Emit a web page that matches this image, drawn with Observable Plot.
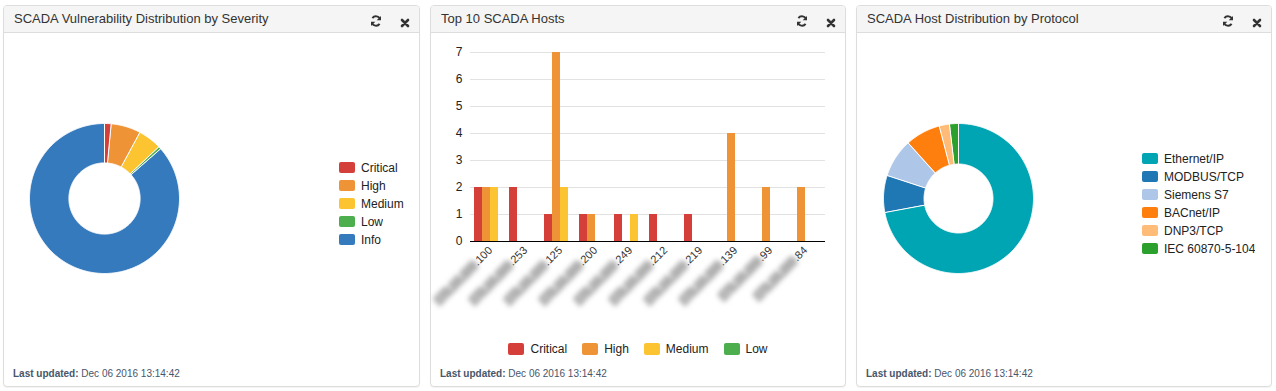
<!DOCTYPE html>
<html><head><meta charset="utf-8">
<script src="https://cdn.jsdelivr.net/npm/d3@7"></script>
<script src="https://cdn.jsdelivr.net/npm/@observablehq/plot@0.6"></script>
<style>
html,body{margin:0;padding:0;background:#fff;}
body{width:1276px;height:391px;position:relative;overflow:hidden;font-family:"Helvetica Neue",Helvetica,Arial,"Liberation Sans",sans-serif;color:#333;}
.panel{position:absolute;top:5px;height:382px;box-sizing:border-box;border:1px solid #ddd;border-radius:4px;background:#fff;box-shadow:0 1px 1px rgba(0,0,0,.05);}
.hdr{position:absolute;left:0;right:0;top:0;height:27px;box-sizing:border-box;background:#f5f5f5;border-bottom:1px solid #ddd;border-radius:3px 3px 0 0;}
.title{position:absolute;left:10px;top:5px;font-size:13px;color:#333;white-space:nowrap;}
.ico{position:absolute;top:7px;}
.foot{position:absolute;left:9px;top:362px;font-size:10px;color:#48566a;white-space:nowrap;}
.chart{position:absolute;}
.leg{position:absolute;font-size:12px;color:#222;}
.leg svg{margin-right:6px !important;}
.leg rect{rx:2px;ry:2px;}
#barleg{left:430px;width:416px;top:340px;}
#barleg > div{justify-content:center;min-height:18px !important;margin:0 !important;}
#barleg span{margin-right:15px !important;}
#barleg span:last-child{margin-right:0 !important;}
#leg1{left:339px;top:159px;}
#leg3{left:1142px;top:150px;}
#leg1 svg,#leg3 svg{margin-top:3px;margin-bottom:3px;}
#leg1 > div, #leg3 > div{margin:0 !important;}
</style>
</head><body>
<script>
// ---------- data ----------
const severities = ["Critical", "High", "Medium", "Low", "Info"];
const severityCounts = [8, 34, 27, 3, 460];
const severityColors = ["#d43f3a", "#ee9336", "#fdc431", "#4cae4c", "#357abd"];

const protocols = ["Ethernet/IP", "MODBUS/TCP", "Siemens S7", "BACnet/IP", "DNP3/TCP", "IEC 60870-5-104"];
const protocolCounts = [390, 43, 45, 41, 12, 10];
const protocolColors = ["#00a5b4", "#1f77b4", "#aec7e8", "#ff7f0e", "#ffbb78", "#2ca02c"];

const hostOctets = ["100", "253", "125", "200", "249", "212", "219", "139", "99", "84"];
const hostCritical = [2, 2, 1, 1, 1, 1, 1, 0, 0, 0];
const hostHigh     = [2, 0, 7, 1, 0, 0, 0, 4, 2, 2];
const hostMedium   = [2, 0, 2, 0, 1, 0, 0, 0, 0, 0];
const hostLow      = [0, 0, 0, 0, 0, 0, 0, 0, 0, 0];
const barSeverities = ["Critical", "High", "Medium", "Low"];
const yTicks = [0, 1, 2, 3, 4, 5, 6, 7];

const panelTitles = ["SCADA Vulnerability Distribution by Severity", "Top 10 SCADA Hosts", "SCADA Host Distribution by Protocol"];
const lastUpdated = "Dec 06 2016 13:14:42";

// ---------- panels ----------
const FONT = '"Helvetica Neue",Helvetica,Arial,"Liberation Sans",sans-serif';
const panelLefts = [3, 430, 856];
const panelWidths = [417, 416, 416];
const refreshSvg = '<svg width="12" height="12" viewBox="0 0 12 12"><path d="M10.1 4.6A4.3 4.3 0 0 0 2.4 3.1" fill="none" stroke="#333" stroke-width="1.9"/><path d="M11 0.9V5.2H6.7z" fill="#333"/><path d="M1.9 7.4A4.3 4.3 0 0 0 9.6 8.9" fill="none" stroke="#333" stroke-width="1.9"/><path d="M1 11.1V6.8H5.3z" fill="#333"/></svg>';
const closeSvg = '<svg width="10" height="10" viewBox="0 0 10 10"><path d="M2 2L8 8M8 2L2 8" stroke="#333" stroke-width="2.6" stroke-linecap="round"/></svg>';
panelTitles.forEach((t, i) => {
  const p = document.createElement("div");
  p.className = "panel";
  p.style.left = panelLefts[i] + "px";
  p.style.width = panelWidths[i] + "px";
  const w = panelWidths[i];
  p.innerHTML = `<div class="hdr"><span class="title">${t}</span>
    <span class="ico" style="left:${w - 51}px">${refreshSvg}</span>
    <span class="ico" style="left:${w - 21}px;top:8px">${closeSvg}</span></div>
    <div class="foot"><b>Last updated:</b> ${lastUpdated}</div>`;
  document.body.appendChild(p);
});

function place(node, left, top, id) {
  const d = document.createElement("div");
  d.className = id ? "leg" : "chart";
  if (id) d.id = id;
  d.style.left = left + "px"; d.style.top = top + "px";
  d.appendChild(node);
  document.body.appendChild(d);
  return d;
}

// ---------- donut helper ----------
function donut(names, values, colors, innerRatio, r) {
  const arcs = d3.pie().sort(null)(values);
  const pts = [];
  arcs.forEach((a, i) => {
    const n = Math.max(2, Math.ceil((a.endAngle - a.startAngle) / 0.01));
    for (let k = 0; k <= n; k++) {
      const t = a.startAngle + (a.endAngle - a.startAngle) * k / n;
      pts.push({key: names[i], x: Math.sin(t), y: Math.cos(t)});
    }
    for (let k = n; k >= 0; k--) {
      const t = a.startAngle + (a.endAngle - a.startAngle) * k / n;
      pts.push({key: names[i], x: innerRatio * Math.sin(t), y: innerRatio * Math.cos(t)});
    }
  });
  const pad = 5, size = 2 * r + 2 * pad;
  return Plot.plot({
    width: size, height: size, margin: 0,
    style: {background: "transparent"},
    x: {domain: [-1, 1], range: [pad, pad + 2 * r], axis: null},
    y: {domain: [-1, 1], range: [pad + 2 * r, pad], axis: null},
    color: {domain: names, range: colors},
    marks: [
      Plot.line(pts, {x: "x", y: "y", z: "key", fill: "key", stroke: "#fff", strokeWidth: 1, curve: "linear-closed"})
    ]
  });
}

// Donut 1
const d1 = donut(severities, severityCounts, severityColors, 0.475, 75);
place(d1, 104 - 80, 198 - 80);
place(d1.legend("color", {columns: 1, swatchWidth: 16, swatchHeight: 11, style: {fontFamily: FONT, fontSize: "12px"}}), 339, 159, "leg1");

// Donut 3
const d3c = donut(protocols, protocolCounts, protocolColors, 0.46, 75);
place(d3c, 957.5 - 80, 198 - 80);
place(d3c.legend("color", {columns: 1, swatchWidth: 16, swatchHeight: 11, style: {fontFamily: FONT, fontSize: "12px"}}), 1142, 150, "leg3");

// ---------- bar chart ----------
const seriesValues = [hostCritical, hostHigh, hostMedium, hostLow];
const rows = [];
barSeverities.forEach((s, i) => hostOctets.forEach((h, j) => rows.push({host: h, severity: s, value: seriesValues[i][j]})));
const blurPrefix = d => "172.16.100\u2008" + "\u2007".repeat(d.length);

const bar = Plot.plot({
  width: 416, height: 300,
  marginLeft: 40, marginRight: 21, marginTop: 20, marginBottom: 91,
  style: {fontFamily: FONT, fontSize: "12px", color: "#222", background: "transparent"},
  x: {domain: hostOctets, paddingInner: 3 / 35, paddingOuter: 4 / 35, round: false, axis: null},
  y: {domain: [0, 7], axis: null},
  color: {domain: barSeverities, range: severityColors.slice(0, 4)},
  marks: [
    Plot.gridY(yTicks, {stroke: "#e2e2e2", strokeOpacity: 1}),
    ...barSeverities.map((s, i) =>
      Plot.barY(rows.filter(d => d.severity === s && d.value > 0), {x: "host", y: "value", fill: "severity", insetLeft: 8 * i, insetRight: 8 * (3 - i)})),
    Plot.axisY({ticks: yTicks, tickSize: 0, tickPadding: 8, label: null, fontSize: 12, tickFormat: d3.format("d"), line: true, stroke: "#000"}),
    Plot.ruleY([0], {stroke: "#000"}),
    Plot.axisX({tickRotate: -45, tickSize: 0, tickPadding: 7, label: null, tickFormat: blurPrefix, fill: "#b0b0b0", fontSize: 11}),
    Plot.axisX({tickRotate: -45, tickSize: 0, tickPadding: 7, label: null, tickFormat: d => "." + d, fill: "#333", fontSize: 11})
  ]
});
const xLabelGroups = bar.querySelectorAll('g[aria-label="x-axis tick label"]');
if (xLabelGroups.length) {
  const g = xLabelGroups[0];
  g.setAttribute("stroke", "#b0b0b0");
  g.setAttribute("stroke-width", "3.5");
  g.setAttribute("stroke-linejoin", "round");
  g.style.filter = "blur(2.4px)";
}
place(bar, 430, 32);
place(bar.legend("color", {swatchWidth: 16, swatchHeight: 12, style: {fontFamily: FONT, fontSize: "12px"}}), 430, 340, "barleg");
</script>
</body></html>
